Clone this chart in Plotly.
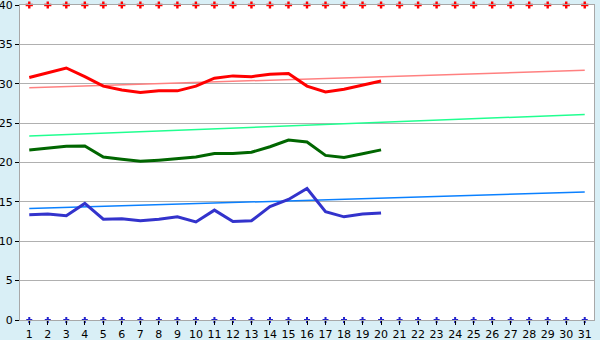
import plotly.graph_objects as go

days = list(range(1, 32))
obs_days = list(range(1, 21))
red_vals = [30.8, 31.4, 32.0, 30.9, 29.7, 29.2, 28.9, 29.1, 29.1, 29.7,
            30.7, 31.0, 30.9, 31.2, 31.3, 29.7, 28.95, 29.3, 29.85, 30.35]
green_vals = [21.6, 21.8, 22.05, 22.1, 20.7, 20.4, 20.15, 20.3, 20.5, 20.7,
              21.15, 21.15, 21.3, 22.0, 22.85, 22.6, 20.9, 20.65, 21.1, 21.6]
blue_vals = [13.35, 13.45, 13.25, 14.8, 12.8, 12.85, 12.6, 12.8, 13.1, 12.45,
             13.95, 12.5, 12.6, 14.4, 15.3, 16.7, 13.75, 13.1, 13.45, 13.6]
red_trend = [29.5, 31.7]
green_trend = [23.35, 26.1]
blue_trend = [14.15, 16.25]
trend_days = [1, 31]
top_marker = [40] * 31
bottom_marker = [0] * 31
y_ticks = [0, 5, 10, 15, 20, 25, 30, 35, 40]

fig = go.Figure()
fig.add_trace(go.Scatter(x=trend_days, y=red_trend, mode="lines",
                         line=dict(color="#ff8080", width=1.5)))
fig.add_trace(go.Scatter(x=trend_days, y=green_trend, mode="lines",
                         line=dict(color="#20ff90", width=1.5)))
fig.add_trace(go.Scatter(x=trend_days, y=blue_trend, mode="lines",
                         line=dict(color="#0a80ff", width=1.5)))
fig.add_trace(go.Scatter(x=obs_days, y=red_vals, mode="lines",
                         line=dict(color="#ff0000", width=3)))
fig.add_trace(go.Scatter(x=obs_days, y=green_vals, mode="lines",
                         line=dict(color="#006600", width=3)))
fig.add_trace(go.Scatter(x=obs_days, y=blue_vals, mode="lines",
                         line=dict(color="#3333cc", width=3)))
fig.add_trace(go.Scatter(x=days, y=top_marker, mode="markers", cliponaxis=False,
                         marker=dict(symbol="cross", size=6, color="#ff0000")))
fig.add_trace(go.Scatter(x=days, y=bottom_marker, mode="markers", cliponaxis=False,
                         marker=dict(symbol="cross", size=5, color="#2222cc")))

fig.update_layout(
    width=600, height=340,
    margin=dict(l=20, r=6, t=5, b=20),
    paper_bgcolor="#d9eff6",
    plot_bgcolor="#ffffff",
    showlegend=False,
    font=dict(family="DejaVu Sans", size=11, color="#000000"),
    xaxis=dict(range=[0.5, 31.5], tickvals=days, ticktext=[str(d) for d in days],
               showgrid=False, zeroline=False, showline=True, linecolor="#a8a8a8",
               linewidth=1, mirror=True, ticks="outside", ticklen=4,
               tickcolor="#000000", automargin=False, fixedrange=True),
    yaxis=dict(range=[0, 40], tickvals=y_ticks, showgrid=True,
               gridcolor="#b0b0b0", gridwidth=1, zeroline=False, showline=True,
               linecolor="#a8a8a8", linewidth=1, mirror=True, ticks="outside",
               ticklen=4, tickcolor="#000000", automargin=False,
               ticklabeloverflow="allow", fixedrange=True),
)

fig.write_html("out.html")
